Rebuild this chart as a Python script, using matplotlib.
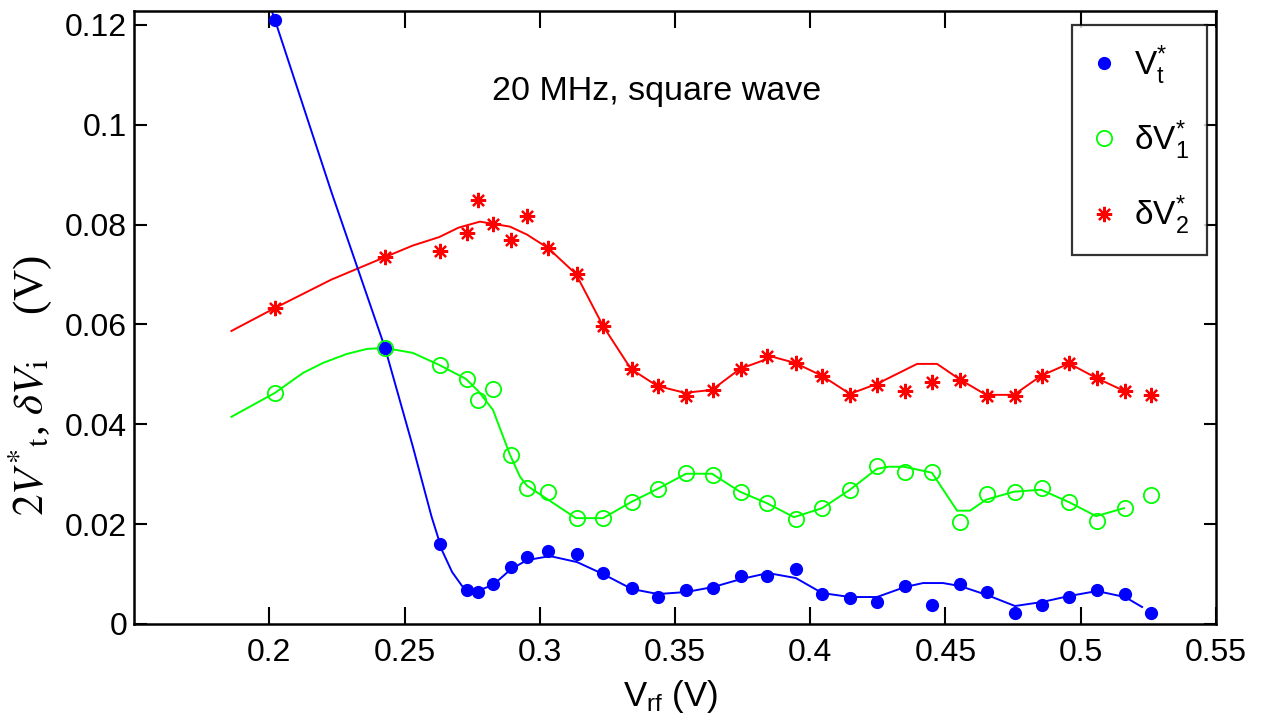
import matplotlib
matplotlib.use('Agg')
import matplotlib.pyplot as plt

# measured points (V_rf in volts)
vrf = [0.2021, 0.2428, 0.2631, 0.2731, 0.2772, 0.2827, 0.2894, 0.2953, 0.3031, 0.3138,
       0.3234, 0.3341, 0.3437, 0.3541, 0.3641, 0.3744, 0.3840, 0.3947, 0.4044, 0.4147,
       0.4247, 0.4350, 0.4450, 0.4554, 0.4654, 0.4757, 0.4857, 0.4957, 0.5060, 0.5164,
       0.5260]
vt = [0.1210, 0.0553, 0.0160, 0.0068, 0.0064, 0.0080, 0.0114, 0.0134, 0.0146, 0.0140,
      0.0102, 0.0072, 0.0054, 0.0068, 0.0072, 0.0096, 0.0096, 0.0110, 0.0060, 0.0052,
      0.0044, 0.0076, 0.0038, 0.0080, 0.0064, 0.0022, 0.0038, 0.0054, 0.0068, 0.0060,
      0.0022]
dv1 = [0.0463, 0.0553, 0.0519, 0.0491, 0.0449, 0.0471, 0.0339, 0.0273, 0.0265, 0.0212,
       0.0212, 0.0244, 0.0271, 0.0303, 0.0299, 0.0265, 0.0242, 0.0210, 0.0232, 0.0269,
       0.0317, 0.0305, 0.0305, 0.0204, 0.0261, 0.0265, 0.0273, 0.0244, 0.0206, 0.0232,
       0.0259]
dv2 = [0.0633, 0.0735, 0.0747, 0.0784, 0.0850, 0.0802, 0.0770, 0.0818, 0.0753, 0.0701,
       0.0597, 0.0511, 0.0477, 0.0457, 0.0469, 0.0511, 0.0537, 0.0523, 0.0497, 0.0459,
       0.0479, 0.0467, 0.0485, 0.0489, 0.0457, 0.0457, 0.0497, 0.0523, 0.0493, 0.0467,
       0.0459]

# fitted curves
fit_t_x = [0.1995, 0.2021, 0.2230, 0.2428, 0.2530, 0.2600, 0.2640, 0.2676, 0.2713, 0.2753,
           0.2827, 0.2894, 0.2953, 0.3038, 0.3138, 0.3234, 0.3341, 0.3437, 0.3541, 0.3641,
           0.3744, 0.3844, 0.3947, 0.4044, 0.4147, 0.4247, 0.4350, 0.4417, 0.4491, 0.4554,
           0.4654, 0.4757, 0.4857, 0.4957, 0.5060, 0.5164, 0.5227]
fit_t_y = [0.1250, 0.1210, 0.0865, 0.0553, 0.0357, 0.0215, 0.0146, 0.0104, 0.0076, 0.0063,
           0.0078, 0.0110, 0.0128, 0.0136, 0.0124, 0.0100, 0.0070, 0.0060, 0.0064, 0.0074,
           0.0090, 0.0102, 0.0092, 0.0062, 0.0054, 0.0054, 0.0074, 0.0082, 0.0082, 0.0076,
           0.0058, 0.0036, 0.0044, 0.0056, 0.0066, 0.0054, 0.0034]
fit1_x = [0.186, 0.2021, 0.2125, 0.2199, 0.2287, 0.2361, 0.2428, 0.2531, 0.2628, 0.2727,
          0.2772, 0.2827, 0.2890, 0.2927, 0.2953, 0.3031, 0.3134, 0.3234, 0.3337, 0.3437,
          0.3541, 0.3637, 0.3740, 0.3840, 0.3940, 0.4044, 0.4147, 0.4247, 0.4290, 0.4347,
          0.4450, 0.4543, 0.4591, 0.4650, 0.4753, 0.4853, 0.4957, 0.5057, 0.5160]
fit1_y = [0.0415, 0.0463, 0.0503, 0.0523, 0.0541, 0.0551, 0.0553, 0.0543, 0.0519, 0.0491,
          0.0467, 0.0429, 0.0339, 0.0295, 0.0277, 0.0249, 0.0212, 0.0212, 0.0244, 0.0271,
          0.0301, 0.0301, 0.0265, 0.0242, 0.0214, 0.0232, 0.0269, 0.0311, 0.0315, 0.0315,
          0.0303, 0.0227, 0.0227, 0.0249, 0.0265, 0.0269, 0.0244, 0.0216, 0.0232]
fit2_x = [0.186, 0.2021, 0.2230, 0.2428, 0.2530, 0.2628, 0.2700, 0.2779, 0.2890, 0.2953,
          0.3031, 0.3134, 0.3234, 0.3337, 0.3434, 0.3537, 0.3637, 0.3740, 0.3862, 0.3944,
          0.4044, 0.4147, 0.4247, 0.4395, 0.4469, 0.4550, 0.4650, 0.4753, 0.4853, 0.4957,
          0.5057, 0.5160]
fit2_y = [0.0587, 0.0633, 0.0690, 0.0735, 0.0758, 0.0775, 0.0794, 0.0806, 0.0796, 0.0780,
          0.0753, 0.0701, 0.0597, 0.0511, 0.0477, 0.0463, 0.0469, 0.0511, 0.0535, 0.0523,
          0.0497, 0.0461, 0.0481, 0.0521, 0.0521, 0.0491, 0.0459, 0.0459, 0.0497, 0.0522,
          0.0493, 0.0467]

xticks = [0.2, 0.25, 0.3, 0.35, 0.4, 0.45, 0.5, 0.55]
xticklabels = ['0.2', '0.25', '0.3', '0.35', '0.4', '0.45', '0.5', '0.55']
yticks = [0, 0.02, 0.04, 0.06, 0.08, 0.1, 0.12]
yticklabels = ['0', '0.02', '0.04', '0.06', '0.08', '0.1', '0.12']

plt.rcParams['font.family'] = ['Liberation Sans', 'DejaVu Sans']
plt.rcParams['mathtext.fontset'] = 'custom'
plt.rcParams['mathtext.rm'] = 'Liberation Sans'
plt.rcParams['mathtext.it'] = 'Liberation Sans:italic'

fig = plt.figure(figsize=(12.62, 7.27), dpi=100)
ax = fig.add_axes([0.1062, 0.1417, 0.8573, 0.8432])

ax.plot(fit2_x, fit2_y, color='#ff0000', lw=1.4)
ax.plot(fit1_x, fit1_y, color='#00ff00', lw=1.4)
ax.plot(fit_t_x, fit_t_y, color='#0000ff', lw=1.4)

ax.plot(vrf, dv2, ls='none', marker=(8, 2, 0), ms=11, mew=1.6, color='#ff0000',
        label='δV$_{\\rm 2}^{*}$')
ax.plot(vrf, dv1, ls='none', marker='o', ms=11, mew=1.3, mfc='none', mec='#00ff00',
        label='δV$_{\\rm 1}^{*}$')
ax.plot(vrf, vt, ls='none', marker='o', ms=8.5, color='#0000ff',
        label='V$_{\\rm t}^{*}$')

ax.set_xlim(0.15, 0.55)
ax.set_ylim(0, 0.1228)
ax.set_xticks(xticks)
ax.set_xticklabels(xticklabels)
ax.set_yticks(yticks)
ax.set_yticklabels(yticklabels)
ax.tick_params(direction='in', top=True, right=True, width=1.5, labelsize=23)
ax.tick_params(axis='x', length=12, pad=10)
ax.tick_params(axis='y', length=9, pad=5)
for s in ax.spines.values():
    s.set_linewidth(1.8)

ax.text(0.4834, 0.868, '20 MHz, square wave', transform=ax.transAxes,
        ha='center', va='center', fontsize=24.5)

ax.set_xlabel('V$_{\\rm rf}$ (V)', fontsize=25)
ax.xaxis.set_label_coords(0.496, -0.088)

fig.text(0.024, 0.47, r'$2V^{*}{}_{\mathrm{t}}$, $\delta V_{\mathrm{i}}$    (V)',
         rotation=90, ha='center', va='center', fontsize=31,
         family='Liberation Serif', math_fontfamily='stix')

h, l = ax.get_legend_handles_labels()
leg = ax.legend(h[::-1], l[::-1], loc='upper right', bbox_to_anchor=(0.9917, 0.9772),
                borderaxespad=0, fontsize=24, frameon=True, fancybox=False,
                handlelength=0.8, handletextpad=0.5, labelspacing=0.95,
                borderpad=0.55, numpoints=1)
leg.get_frame().set_edgecolor('black')
leg.get_frame().set_linewidth(1.6)

fig.savefig('out.png', dpi=100)
